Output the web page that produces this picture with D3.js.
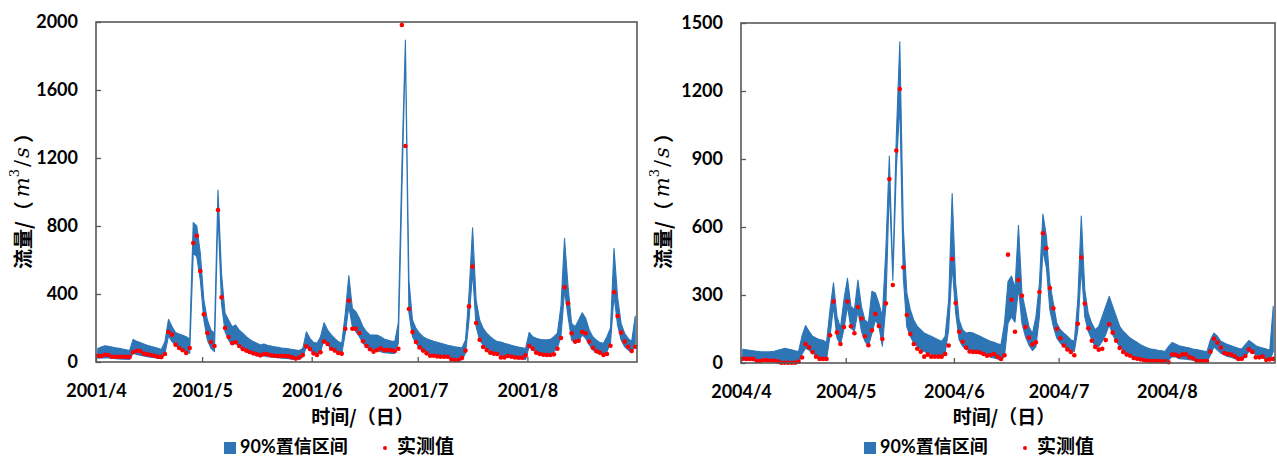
<!DOCTYPE html>
<html><head><meta charset="utf-8">
<script src="https://cdn.jsdelivr.net/npm/d3@7"></script>
<style>body{margin:0;background:#fff}svg{display:block}</style>
</head><body>
<svg id="c" width="1277" height="458"></svg>
<script>
// ---------- data ----------
const startA = "2001-04-01";
const startB = "2004-04-01";
const monthLabelsA = ["2001/4","2001/5","2001/6","2001/7","2001/8"];
const monthLabelsB = ["2004/4","2004/5","2004/6","2004/7","2004/8"];
const yTicksA = [0,400,800,1200,1600,2000];
const yTicksB = [0,300,600,900,1200,1500];
const legendLabels = ["90%置信区间","实测值"];
const xTitle = "时间/（日）";

const obsA = [37,35,43,41,31,31,31,31,30,30,
  57,66,64,49,45,41,37,31,30,47,
  176,161,102,82,69,53,82,700,743,535,
  280,171,118,94,894,380,200,147,112,116,
  94,76,67,59,51,45,39,47,45,39,
  37,35,35,35,33,27,20,27,41,92,
  76,51,41,57,120,106,78,67,53,49,
  196,361,196,196,171,122,94,75,61,70,
  80,70,70,70,65,78,1982,1271,312,176,
  118,86,67,51,37,37,33,31,31,31,
  14,12,12,24,67,327,561,229,131,88,
  70,55,49,47,27,27,35,31,27,25,
  25,39,94,78,55,47,43,41,41,45,
  78,141,439,345,169,120,125,176,169,120,
  84,63,55,41,47,96,410,271,173,120,
  90,65,90];
const upA = [80,88,96,92,88,84,80,76,72,68,
  133,122,114,106,98,92,86,80,74,120,
  251,208,173,165,157,149,135,820,800,639,
  365,247,188,169,1012,520,286,247,208,218,
  188,169,149,133,120,110,100,106,98,94,
  90,86,82,80,77,74,71,68,80,178,
  139,116,110,149,231,188,161,139,120,110,
  286,508,316,296,257,208,178,159,159,159,
  149,135,129,124,120,230,1150,1894,480,247,
  198,169,149,137,129,122,116,110,104,98,
  94,90,86,82,129,404,790,365,247,198,
  169,149,133,120,118,110,104,98,93,88,
  84,80,174,149,139,133,130,130,133,149,
  170,330,727,443,227,208,247,290,257,188,
  149,129,114,110,149,200,669,384,227,169,
  139,120,270];
const loA = [22,24,26,24,22,20,18,17,16,15,
  51,45,40,35,31,28,25,22,20,50,
  153,120,100,80,71,61,51,640,620,482,
  247,129,80,61,880,340,178,129,100,110,
  90,71,61,51,45,37,31,37,31,29,
  27,25,23,21,19,17,16,16,30,90,
  71,51,41,61,129,100,80,67,55,47,
  169,325,208,178,149,110,90,71,61,71,
  61,55,53,51,51,110,1000,1840,290,149,
  110,80,67,55,47,41,37,33,29,25,
  21,18,15,12,51,247,530,208,129,100,
  80,67,55,47,41,37,33,29,25,21,
  18,15,90,71,57,53,51,51,53,61,
  85,150,420,267,129,110,120,159,139,100,
  71,55,47,41,61,110,390,218,129,90,
  71,55,110];

const obsB = [19,18,18,18,9,9,12,12,10,10,
  7,1,1,1,1,1,6,24,84,69,
  48,28,18,18,18,122,271,135,84,159,
  271,162,131,247,196,118,78,144,216,163,
  106,263,812,344,937,1209,422,212,128,84,
  63,50,28,37,28,28,28,28,40,77,
  459,265,138,94,68,51,49,49,46,40,
  32,35,40,28,18,34,478,279,138,366,
  297,159,112,82,91,313,572,506,331,241,
  150,109,77,60,49,34,173,465,262,153,
  98,71,59,63,101,171,134,98,66,49,
  37,32,22,19,16,12,10,9,9,9,
  7,7,3,37,37,31,38,38,26,21,
  10,9,9,9,50,107,90,68,44,40,
  37,29,18,19,31,60,49,25,25,28,
  13,16,18];
const upB = [60,58,56,54,52,50,49,49,50,52,
  56,60,65,62,58,54,51,120,165,140,
  118,110,103,100,91,235,354,206,154,280,
  374,250,235,366,250,190,176,316,309,263,
  206,498,913,390,1000,1417,600,310,235,190,
  162,147,132,125,118,110,103,96,118,279,
  748,354,190,147,132,135,132,125,118,110,
  103,96,91,85,81,176,359,384,330,607,
  307,234,160,130,204,351,657,560,351,263,
  175,147,132,118,103,96,278,648,322,219,
  175,147,162,206,250,294,250,206,162,140,
  125,110,100,91,81,73,66,62,59,56,
  54,51,73,90,84,76,73,69,66,62,
  59,56,53,50,103,132,118,96,88,81,
  76,70,65,62,81,99,88,76,70,66,
  62,56,250];
const loB = [15,14,13,12,11,10,9,8,7,6,
  5,3,2,2,2,2,2,40,65,57,
  43,35,28,21,16,118,250,110,81,150,
  250,154,140,230,140,96,74,130,190,162,
  74,250,780,365,850,1150,380,160,118,88,
  74,62,51,44,40,34,29,26,44,147,
  430,221,103,74,59,59,54,50,44,37,
  32,26,22,18,12,30,175,204,180,330,
  175,116,79,55,72,204,497,420,234,160,
  109,88,72,65,57,51,145,420,204,140,
  103,72,72,96,125,168,125,96,72,57,
  43,35,28,21,16,10,7,6,4,3,
  3,2,13,28,27,19,18,17,15,12,
  9,7,5,4,35,72,57,43,35,28,
  25,19,13,13,28,51,45,38,32,27,
  13,10,50];

// ---------- drawing ----------
const svg = d3.select("#c");
const BLUE = "#2E75B6", RED = "#FF0000", AX = "#595959";
const NUM_FONT = "Lato, 'Noto Sans CJK SC', sans-serif";
const CJK_FONT = "'Noto Sans CJK SC', sans-serif";

function panel(cfg){
  const g = svg.append("g");
  const start = d3.utcParse("%Y-%m-%d")(cfg.start);
  const end = d3.utcMonth.offset(start, 5);
  const x = d3.scaleUtc().domain([start, end]).range([cfg.left, cfg.right]);
  const y = d3.scaleLinear().domain([0, d3.max(cfg.yTicks)]).range([cfg.bottom, cfg.top]);
  const px = i => x(d3.utcHour.offset(d3.utcDay.offset(start, i), 12));
  const idx = d3.range(cfg.obs.length);

  // band
  const area = d3.area().x(i => px(i)).y0(i => y(cfg.lo[i])).y1(i => y(cfg.up[i]));
  g.append("path").attr("d", area(idx))
    .attr("fill", BLUE).attr("stroke", BLUE).attr("stroke-width", 1.1)
    .attr("stroke-linejoin", "round");

  // observed points
  g.append("g").selectAll("circle").data(idx).join("circle")
    .attr("cx", i => px(i)).attr("cy", i => y(cfg.obs[i])).attr("r", 2.3).attr("fill", RED);

  // frame
  g.append("rect").attr("x", cfg.left).attr("y", cfg.top)
    .attr("width", cfg.right - cfg.left).attr("height", cfg.bottom - cfg.top)
    .attr("fill", "none").attr("stroke", AX).attr("stroke-width", 1.6);

  // y axis
  const ya = g.append("g").attr("transform", `translate(${cfg.left},0)`)
    .call(d3.axisLeft(y).tickValues(cfg.yTicks).tickFormat(d3.format("d"))
      .tickSizeInner(-5).tickSizeOuter(0).tickPadding(18));
  ya.select(".domain").remove();
  ya.selectAll(".tick line").attr("stroke", AX).attr("stroke-width", 1.3);
  ya.selectAll(".tick text").attr("font-family", NUM_FONT).attr("font-weight", "bold")
    .attr("font-size", 18).attr("fill", "#000");

  // x axis
  const months = d3.utcMonth.range(start, end);
  const xa = g.append("g").attr("transform", `translate(0,${cfg.bottom})`)
    .call(d3.axisBottom(x).tickValues(months).tickSizeInner(-5).tickSizeOuter(0).tickPadding(22)
      .tickFormat((d, i) => cfg.monthLabels[i]));
  xa.select(".domain").remove();
  xa.selectAll(".tick line").attr("stroke", AX).attr("stroke-width", 1.3);
  xa.selectAll(".tick text").attr("font-family", NUM_FONT).attr("font-weight", "bold")
    .attr("font-size", 18).attr("fill", "#000");

  // x title
  g.append("text").attr("x", (cfg.left + cfg.right) / 2 - 4).attr("y", 424)
    .attr("text-anchor", "middle")
    .attr("font-family", CJK_FONT).attr("font-weight", "bold").attr("font-size", 19)
    .attr("fill", "#000").text(xTitle);

  // y title
  const yt = g.append("text").attr("transform", `translate(${cfg.ytx},196) rotate(-90)`)
    .attr("text-anchor", "middle").attr("dominant-baseline", "central")
    .attr("font-family", CJK_FONT).attr("font-weight", "bold").attr("font-size", 20).attr("fill", "#000");
  yt.append("tspan").text("流量/（");
  yt.append("tspan").attr("font-family", "'DejaVu Serif', serif").attr("font-style", "italic")
    .attr("font-weight", "normal").attr("font-size", 21).attr("dx", 4).text("m");
  yt.append("tspan").attr("font-family", "'DejaVu Serif', serif").attr("font-weight", "normal")
    .attr("font-size", 13).attr("dy", -8).text("3");
  yt.append("tspan").attr("font-family", "'DejaVu Serif', serif").attr("font-weight", "normal")
    .attr("font-size", 21).attr("dy", 8).attr("dx", 2).text("/");
  yt.append("tspan").attr("font-family", "'DejaVu Serif', serif").attr("font-style", "italic")
    .attr("font-weight", "normal").attr("font-size", 21).attr("dx", 2).text("s");
  yt.append("tspan").attr("dx", 4).text("）");

  // legend
  const lg = g.append("g");
  lg.append("rect").attr("x", cfg.legX).attr("y", 442).attr("width", 12).attr("height", 12).attr("fill", BLUE);
  lg.append("text").attr("x", cfg.legX + 16).attr("y", 453)
    .attr("font-family", NUM_FONT).attr("font-weight", "bold").attr("font-size", 18).attr("fill", "#000")
    .text(legendLabels[0]);
  lg.append("circle").attr("cx", cfg.legX + 161).attr("cy", 448).attr("r", 2).attr("fill", RED);
  lg.append("text").attr("x", cfg.legX + 173).attr("y", 453)
    .attr("font-family", CJK_FONT).attr("font-weight", "bold").attr("font-size", 19).attr("fill", "#000")
    .text(legendLabels[1]);
}

panel({start: startA, obs: obsA, up: upA, lo: loA, yTicks: yTicksA, monthLabels: monthLabelsA,
  left: 96, right: 637, top: 22, bottom: 362, ytx: 22, legX: 224});
panel({start: startB, obs: obsB, up: upB, lo: loB, yTicks: yTicksB, monthLabels: monthLabelsB,
  left: 741, right: 1275, top: 23, bottom: 363, ytx: 662, legX: 864});
</script>
</body></html>
